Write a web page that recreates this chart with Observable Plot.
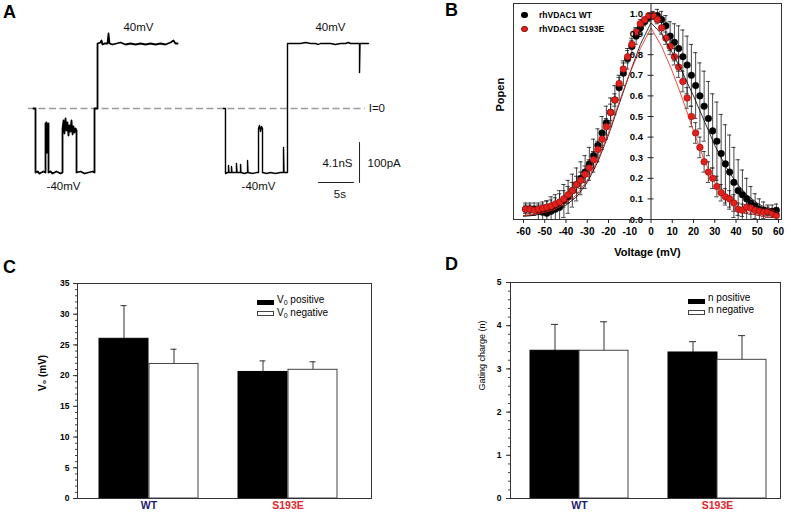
<!DOCTYPE html>
<html><head><meta charset="utf-8">
<script src="https://cdn.jsdelivr.net/npm/d3@7"></script>
<script src="https://cdn.jsdelivr.net/npm/@observablehq/plot@0.6"></script>
<style>
body{margin:0;background:#fff;}
#fig{position:relative;width:791px;height:512px;overflow:hidden;background:#fff;font-family:"Liberation Sans",Arial,Helvetica,sans-serif;color:#000;}
.abs{position:absolute;}
.letter{position:absolute;font-weight:bold;font-size:18px;line-height:18px;}
.lg{position:absolute;white-space:nowrap;}
.sw{position:absolute;box-sizing:border-box;}
sub{font-size:7px;vertical-align:-2px;line-height:0;}
</style></head><body><div id="fig"></div>
<script>
// ---------- Panel A: single-channel traces (time s, current pA) ----------
const trace1T = [4.71,5.0,5.0,5.29,5.57,5.86,6.14,6.43,6.43,6.5,6.57,6.64,6.71,6.79,6.86,6.86,7.14,7.43,7.71,8.0,8.29,8.57,8.86,8.86,9.0,9.14,9.29,9.43,9.57,9.71,9.86,10.0,10.14,10.29,10.43,10.57,10.71,10.86,10.86,11.43,12.0,12.57,13.14,13.43,13.43,13.86,13.86,14.29,14.43,14.57,14.86,15.14,15.29,15.43,15.57,16.0,16.57,17.14,17.86,18.57,19.29,20.0,20.71,21.43,22.14,22.86,23.57,24.29,24.71,25.0,25.29];
const trace1I = [0,0,-160,-157.5,-162.5,-160,-157.5,-160,-37.5,-105,-35,-110,-40,-105,-37.5,-160,-157.5,-162.5,-160,-157.5,-160,-162.5,-160,-50,-30,-62.5,-25,-55,-35,-67.5,-42.5,-57.5,-30,-65,-45,-60,-50,-55,-160,-157.5,-162.5,-160,-157.5,-160,0,0,162.5,165,170,160,162.5,162.5,162.5,187.5,162.5,160,162.5,165,160,162.5,160,162.5,160,162.5,160,162.5,160,165,170,162.5,162.5];
const trace2T = [31.86,32.14,32.14,32.43,32.57,32.57,32.64,33.0,33.0,33.07,33.71,33.71,33.79,34.29,34.29,34.36,34.86,35.29,35.29,35.36,36.0,36.57,36.86,36.86,37.0,37.14,37.29,37.43,37.43,38.0,38.57,39.29,40.0,40.43,40.43,40.5,41.0,41.0,41.71,42.86,43.57,44.29,45.0,45.43,45.71,47.14,47.86,48.57,49.29,49.71,50.0,50.71,51.29,51.29,51.36,52.0,52.57];
const trace2I = [0,0,-162.5,-160,-160,-142.5,-160,-160,-145,-160,-160,-137.5,-160,-160,-140,-160,-162.5,-160,-130,-160,-162.5,-160,-160,-50,-42.5,-57.5,-45,-50,-160,-162.5,-160,-162.5,-160,-160,-97.5,-160,-160,162.5,162.5,162.5,165,162.5,162.5,160,162.5,162.5,160,162.5,162.5,165,162.5,162.5,162.5,90,162.5,162.5,162.5];
const zeroSpanT = [4.0, 52.1];
const scaleBarT = [45.43, 50.43];   // 5 s
const scaleBarI = [-85, -185];      // 100 pA
const scaleBarVT = 51.29;
const labelsA = [
  {t:19.71, i:202.5, text:"40mV"}, {t:47.14, i:202.5, text:"40mV"},
  {t:9.0, i:-195, text:"-40mV"}, {t:36.86, i:-195, text:"-40mV"},
  {t:48.14, i:-137.5, text:"4.1nS"}, {t:48.48, i:-215, text:"5s"}
];
const labelsAStart = [{t:52.6, i:0, text:"I=0"}, {t:52.43, i:-137.5, text:"100pA"}];

// ---------- Panel B: Popen vs voltage ----------
const voltages = [-59,-57,-55,-53,-51,-49,-47,-45,-43,-41,-39,-37,-35,-33,-31,-29,-27,-25,-23,-21,-19,-17,-15,-13,-11,-9,-7,-5,-3,-1,1,3,5,7,9,11,13,15,17,19,21,23,25,27,29,31,33,35,37,39,41,43,45,47,49,51,53,55,57,59];
const popenWT = [0.05,0.05,0.05,0.04,0.035,0.03,0.04,0.05,0.06,0.09, 0.11,0.14,0.17,0.20,0.23,0.27,0.31,0.36,0.42,0.47, 0.52,0.58,0.64,0.71,0.78,0.84,0.89,0.93,0.96,0.98, 0.99,0.99,0.97,0.94,0.89,0.86,0.83,0.79,0.75,0.70, 0.65,0.60,0.55,0.49,0.43,0.38,0.32,0.27,0.23,0.18, 0.14,0.12,0.10,0.08,0.065,0.05,0.045,0.04,0.04,0.045];
const errWT = [0.03,0.03,0.03,0.04,0.05,0.06,0.07,0.07,0.08,0.08, 0.08,0.08,0.08,0.08,0.08,0.08,0.08,0.08,0.08,0.08, 0.07,0.07,0.06,0.06,0.05,0.04,0.04,0.03,0.02,0.02, 0.02,0.03,0.04,0.05,0.07,0.09,0.11,0.13,0.14,0.15, 0.16,0.16,0.17,0.18,0.18,0.19,0.19,0.19,0.18,0.17, 0.15,0.12,0.10,0.08,0.06,0.05,0.04,0.03,0.03,0.03];
const popenS193E = [0.05,0.05,0.045,0.05,0.055,0.06,0.065,0.075,0.085,0.10, 0.12,0.14,0.17,0.19,0.22,0.25,0.29,0.34,0.39,0.45, 0.52,0.58,0.66,0.73,0.79,0.85,0.91,0.95,0.97,0.99, 0.99,0.97,0.93,0.88,0.84,0.79,0.74,0.67,0.59,0.50, 0.42,0.35,0.28,0.23,0.20,0.16,0.13,0.11,0.10,0.08, 0.05,0.045,0.06,0.055,0.045,0.04,0.035,0.04,0.03,0.02];
const errS193E = [0.02,0.02,0.02,0.02,0.02,0.03,0.03,0.03,0.04,0.04, 0.04,0.04,0.04,0.04,0.04,0.04,0.04,0.04,0.04,0.04, 0.04,0.03,0.03,0.03,0.03,0.02,0.02,0.02,0.01,0.01, 0.01,0.02,0.03,0.03,0.04,0.04,0.05,0.05,0.05,0.05, 0.05,0.05,0.05,0.05,0.05,0.05,0.04,0.04,0.04,0.04, 0.03,0.03,0.03,0.03,0.02,0.02,0.02,0.02,0.02,0.02];
const fitV = [-60,-55,-50,-45,-40,-35,-30,-25,-20,-15,-10,-5,0,5,10,15,20,25,30,35,40,45,50,55,60];
const fitWT = [0.015,0.02,0.03,0.045,0.07,0.11,0.18,0.28,0.41,0.56,0.71,0.85,0.955,0.90,0.81,0.71,0.60,0.48,0.36,0.26,0.18,0.12,0.08,0.05,0.03];
const fitS193E = [0.02,0.025,0.035,0.05,0.08,0.12,0.19,0.29,0.42,0.57,0.71,0.83,0.93,0.84,0.72,0.58,0.43,0.29,0.18,0.11,0.06,0.035,0.02,0.012,0.008];
const popenTicks = [0,0.1,0.2,0.3,0.4,0.5,0.6,0.7,0.8,0.9,1.0];
const voltTicks = [-60,-50,-40,-30,-20,-10,0,10,20,30,40,50,60];

// ---------- Panels C & D: bar charts ----------
const mutants = ["WT", "S193E"];
const mutantColors = ["#1c1c6e", "#e3262b"];
const v0Positive = [26.0, 20.6];
const v0PositiveErr = [5.4, 1.8];
const v0Negative = [21.9, 20.95];
const v0NegativeErr = [2.4, 1.3];
const nPositive = [3.42, 3.38];
const nPositiveErr = [0.61, 0.25];
const nNegative = [3.42, 3.21];
const nNegativeErr = [0.67, 0.56];
const v0Ticks = [0,5,10,15,20,25,30,35];
const nTicks = [0,1,2,3,4,5];

const FONT = '"Liberation Sans", Arial, Helvetica, sans-serif';
const fig = document.getElementById("fig");
function place(node, left, top) {
  const d = document.createElement("div");
  d.className = "abs"; d.style.left = left + "px"; d.style.top = top + "px";
  d.appendChild(node); fig.appendChild(d);
}
const baseStyle = {fontFamily: FONT, background: "none", overflow: "visible", color: "#000"};

// ----- Panel A -----
const t1 = trace1T.map((t, k) => ({t, i: trace1I[k]}));
const t2 = trace2T.map((t, k) => ({t, i: trace2I[k]}));
const barH = scaleBarT.map(t => ({t, i: scaleBarI[1]}));
const barV = scaleBarI.map(i => ({t: scaleBarVT, i}));
const plotA = Plot.plot({
  width: 400, height: 260, margin: 0,
  style: baseStyle,
  x: {domain: [0, 57.1429], axis: null},
  y: {domain: [-380, 270], axis: null},
  marks: [
    Plot.ruleY([0], {x1: zeroSpanT[0], x2: zeroSpanT[1], stroke: "#9a9a9a", strokeWidth: 1.6, strokeDasharray: "7,3.5"}),
    Plot.line(t1, {x: "t", y: "i", stroke: "#000", strokeWidth: 1.8}),
    Plot.line(t2, {x: "t", y: "i", stroke: "#000", strokeWidth: 1.4}),
    Plot.line(barH, {x: "t", y: "i", stroke: "#222", strokeWidth: 1}),
    Plot.line(barV, {x: "t", y: "i", stroke: "#222", strokeWidth: 1}),
    Plot.text(labelsA, {x: "t", y: "i", text: "text", fontSize: 11.5, fill: "#111"}),
    Plot.text(labelsAStart, {x: "t", y: "i", text: "text", textAnchor: "start", fontSize: 11.5, fill: "#111"})
  ]
});
place(plotA, 0, 0);

// ----- Panel B -----
const rowsWT = voltages.map((v, k) => ({v, p: popenWT[k], e: errWT[k]}));
const rowsS = voltages.map((v, k) => ({v, p: popenS193E[k], e: errS193E[k]}));
const fitRowsWT = fitV.map((v, k) => ({v, p: fitWT[k]}));
const fitRowsS = fitV.map((v, k) => ({v, p: fitS193E[k]}));
function errMarks(rows) {
  return [
    Plot.ruleX(rows, {x: "v", y1: d => d.p - d.e, y2: d => d.p + d.e, stroke: "#1a1a1a", strokeWidth: 0.8, clip: true}),
    Plot.ruleY(rows, {y: d => d.p + d.e, x1: d => d.v - 1.0, x2: d => d.v + 1.0, stroke: "#1a1a1a", strokeWidth: 0.8, clip: true}),
    Plot.ruleY(rows, {y: d => d.p - d.e, x1: d => d.v - 1.0, x2: d => d.v + 1.0, stroke: "#1a1a1a", strokeWidth: 0.8, clip: true})
  ];
}
const plotB = Plot.plot({
  width: 391, height: 265, marginLeft: 113, marginRight: 10, marginTop: 3, marginBottom: 46,
  style: baseStyle,
  x: {domain: [-64.7, 61.4]},
  y: {domain: [0, 1.0485], axis: null},
  marks: [
    ...errMarks(rowsWT),
    Plot.dot(rowsWT, {x: "v", y: "p", r: 3.3, fill: "#000", stroke: "#000", strokeWidth: 0.5, clip: true}),
    ...errMarks(rowsS),
    Plot.dot(rowsS, {x: "v", y: "p", r: 3.3, fill: "#e3201b", stroke: "#8a0f0c", strokeWidth: 0.6, clip: true}),
    Plot.line(fitRowsWT, {x: "v", y: "p", stroke: "#000", strokeWidth: 0.8, clip: true}),
    Plot.line(fitRowsS, {x: "v", y: "p", stroke: "#e3201b", strokeWidth: 0.8, clip: true}),
    Plot.ruleX([0], {stroke: "#222", strokeWidth: 1}),
    Plot.ruleY(popenTicks, {y: d => d, x1: -1.4, x2: 1.4, stroke: "#222", strokeWidth: 1}),
    Plot.text(popenTicks, {y: d => d, x: 0, dx: -8, text: d => d.toFixed(1), textAnchor: "end", fontWeight: "bold", fontSize: 9.5}),
    Plot.frame({stroke: "#333"}),
    Plot.axisX({ticks: voltTicks, tickSize: 4, tickPadding: 4, tickFormat: d => String(d), fontWeight: "bold", fontSize: 10, label: null, stroke: "#222"}),
    Plot.text(["Voltage (mV)"], {frameAnchor: "bottom", dy: 36, fontWeight: "bold", fontSize: 11}),
    Plot.text(["Popen"], {frameAnchor: "left", dx: -13, rotate: -90, fontWeight: "bold", fontSize: 11})
  ]
});
place(plotB, 400, 0);

// ----- Bar panels -----
function barPanel(o) {
  const rows = mutants.map((m, k) => ({m, pos: o.pos[k], posTop: o.pos[k] + o.posErr[k], neg: o.neg[k], negTop: o.neg[k] + o.negErr[k]}));
  const bw = o.bw, cap = 3.5;
  return Plot.plot({
    width: o.width, height: o.height, marginLeft: o.ml, marginRight: o.mr, marginTop: o.mt, marginBottom: o.mb,
    style: baseStyle,
    x: {domain: mutants, paddingInner: o.pi, paddingOuter: o.po, align: o.align, axis: null},
    y: {domain: o.yDomain, axis: null},
    marks: [
      Plot.ruleX(rows, {x: "m", y1: "pos", y2: "posTop", dx: -bw / 4, stroke: "#333", strokeWidth: 1}),
      Plot.ruleX(rows, {x: "m", y1: "neg", y2: "negTop", dx: bw / 4, stroke: "#333", strokeWidth: 1}),
      Plot.tickY(rows, {x: "m", y: "posTop", insetLeft: bw / 4 - cap, insetRight: 3 * bw / 4 - cap, stroke: "#333", strokeWidth: 1}),
      Plot.tickY(rows, {x: "m", y: "negTop", insetLeft: 3 * bw / 4 - cap, insetRight: bw / 4 - cap, stroke: "#333", strokeWidth: 1}),
      Plot.barY(rows, {x: "m", y: "pos", insetRight: bw / 2, fill: "#000", stroke: "#000", strokeWidth: 1}),
      Plot.barY(rows, {x: "m", y: "neg", insetLeft: bw / 2, fill: "#fff", stroke: "#444", strokeWidth: 1}),
      Plot.frame({stroke: "#333"}),
      Plot.axisY({ticks: o.minor, tickSize: 2, tickFormat: () => "", label: null, stroke: "#444"}),
      Plot.axisY({ticks: o.major, tickSize: 4, tickPadding: o.tp, tickFormat: d => String(d), fontWeight: "bold", fontSize: o.tickFont, label: null, stroke: "#333"}),
      Plot.text([mutants[0]], {x: d => d, frameAnchor: "bottom", dy: 10, fill: mutantColors[0], fontWeight: "bold", fontSize: 10.5}),
      Plot.text([mutants[1]], {x: d => d, frameAnchor: "bottom", dy: 10, fill: mutantColors[1], fontWeight: "bold", fontSize: 10.5}),
      Plot.text([o.ylabel], {frameAnchor: "left", dx: o.ylabelDx, rotate: -90, fontWeight: o.ylabelWeight, fontSize: o.ylabelSize})
    ]
  });
}
const plotC = barPanel({
  width: 400, height: 242, ml: 77, mr: 29, mt: 13, mb: 14, bw: 100,
  pi: 0.2857, po: 0.193, align: 0.389, yDomain: [0, 35],
  pos: v0Positive, posErr: v0PositiveErr, neg: v0Negative, negErr: v0NegativeErr,
  major: v0Ticks, minor: d3.range(0, 35.5, 1), tp: 4, tickFont: 8.5,
  ylabel: "V\u2080 (mV)", ylabelDx: -35, ylabelWeight: "bold", ylabelSize: 10
});
place(plotC, 0, 270);
const plotD = barPanel({
  width: 391, height: 242, ml: 110, mr: 11, mt: 12, mb: 14, bw: 98,
  pi: 0.29, po: 0.123, align: 0.59, yDomain: [0, 5],
  pos: nPositive, posErr: nPositiveErr, neg: nNegative, negErr: nNegativeErr,
  major: nTicks, minor: d3.range(0, 5.01, 0.2), tp: 5, tickFont: 8.5,
  ylabel: "Gating charge (n)", ylabelDx: -28, ylabelWeight: "normal", ylabelSize: 9
});
place(plotD, 400, 270);

// ----- Letters and legends (HTML) -----
fig.insertAdjacentHTML("beforeend", `
<div class="letter" style="left:3px;top:3px">A</div>
<div class="letter" style="left:445px;top:1px">B</div>
<div class="letter" style="left:3px;top:258px">C</div>
<div class="letter" style="left:445px;top:255px">D</div>

<div class="sw" style="left:521px;top:11.7px;width:6.6px;height:6.6px;border-radius:50%;background:#000"></div>
<div class="lg" style="left:539px;top:9px;font-size:8.5px;line-height:12px;font-weight:bold">rhVDAC1 WT</div>
<div class="sw" style="left:521px;top:25.7px;width:6.6px;height:6.6px;border-radius:50%;background:#e3201b;border:0.6px solid #8a0f0c"></div>
<div class="lg" style="left:539px;top:23px;font-size:8.5px;line-height:12px;font-weight:bold">rhVDAC1 S193E</div>

<div class="sw" style="left:257px;top:299.5px;width:17px;height:5px;background:#000"></div>
<div class="lg" style="left:277px;top:294px;font-size:10px;line-height:12px">V<sub>0</sub> positive</div>
<div class="sw" style="left:257px;top:311px;width:17px;height:5px;background:#fff;border:1px solid #444"></div>
<div class="lg" style="left:277px;top:307px;font-size:10px;line-height:12px">V<sub>0</sub> negative</div>

<div class="sw" style="left:688px;top:298.5px;width:17px;height:5px;background:#000"></div>
<div class="lg" style="left:708px;top:292px;font-size:10px;line-height:12px">n positive</div>
<div class="sw" style="left:688px;top:310px;width:17px;height:5px;background:#fff;border:1px solid #444"></div>
<div class="lg" style="left:708px;top:303.5px;font-size:10px;line-height:12px">n negative</div>
`);
</script></body></html>
